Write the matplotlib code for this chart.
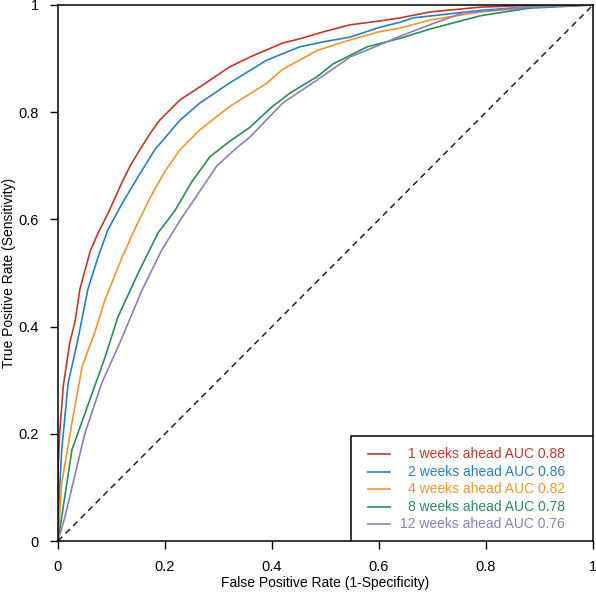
import numpy as np
import matplotlib
matplotlib.use("Agg")
import matplotlib.pyplot as plt
from matplotlib.patches import Rectangle

plt.rcParams['font.family'] = ['Liberation Sans', 'DejaVu Sans']

# ROC points
fpr_1w = [0, 0, 0.003, 0.01, 0.022, 0.032, 0.041, 0.06, 0.075, 0.093, 0.12, 0.135, 0.153,
          0.172, 0.19, 0.228, 0.265, 0.32, 0.359, 0.42, 0.452, 0.5, 0.546, 0.6, 0.64, 0.695,
          0.79, 0.9, 1]
tpr_1w = [0, 0.13, 0.2, 0.29, 0.37, 0.41, 0.47, 0.54, 0.575, 0.61, 0.67, 0.70, 0.73,
          0.76, 0.785, 0.823, 0.847, 0.884, 0.903, 0.929, 0.937, 0.951, 0.963, 0.97, 0.976,
          0.987, 0.996, 1, 1]

fpr_2w = [0, 0.002, 0.007, 0.019, 0.036, 0.056, 0.075, 0.093, 0.12, 0.15, 0.181,
          0.228, 0.265, 0.32, 0.39, 0.452, 0.5, 0.546, 0.6, 0.64, 0.664, 0.79, 0.9, 1]
tpr_2w = [0, 0.08, 0.17, 0.295, 0.37, 0.47, 0.53, 0.58, 0.63, 0.68, 0.73,
          0.785, 0.817, 0.854, 0.897, 0.922, 0.932, 0.94, 0.958, 0.968, 0.976, 0.99, 0.998, 1]

fpr_4w = [0, 0.007, 0.026, 0.045, 0.069, 0.088, 0.12, 0.145, 0.172, 0.2, 0.228,
          0.265, 0.32, 0.39, 0.42, 0.484, 0.54, 0.60, 0.64, 0.695, 0.79, 0.9, 1]
tpr_4w = [0, 0.108, 0.22, 0.325, 0.39, 0.45, 0.53, 0.585, 0.64, 0.69, 0.73,
          0.767, 0.81, 0.854, 0.88, 0.915, 0.933, 0.95, 0.957, 0.972, 0.987, 0.997, 1]

fpr_8w = [0, 0.007, 0.026, 0.064, 0.088, 0.112, 0.15, 0.187, 0.219, 0.25,
          0.284, 0.32, 0.359, 0.4, 0.434, 0.484, 0.514, 0.578, 0.64, 0.695, 0.79, 0.88, 1]
tpr_8w = [0, 0.045, 0.17, 0.276, 0.343, 0.418, 0.50, 0.575, 0.617, 0.67,
          0.717, 0.745, 0.772, 0.81, 0.836, 0.866, 0.89, 0.922, 0.938, 0.955, 0.98, 0.994, 1]

fpr_12w = [0, 0.013, 0.05, 0.082, 0.12, 0.157, 0.194, 0.232, 0.27, 0.297,
           0.33, 0.359, 0.42, 0.484, 0.546, 0.6, 0.64, 0.7, 0.757, 0.88, 1]
tpr_12w = [0, 0.045, 0.20, 0.295, 0.38, 0.468, 0.543, 0.604, 0.66, 0.70,
           0.73, 0.754, 0.817, 0.86, 0.903, 0.925, 0.942, 0.965, 0.985, 0.996, 1]

labels = ["1 weeks ahead AUC 0.88", "2 weeks ahead AUC 0.86", "4 weeks ahead AUC 0.82",
          "8 weeks ahead AUC 0.78", "12 weeks ahead AUC 0.76"]
colors = ["#c0392b", "#2a7fc4", "#f0962e", "#2e8b57", "#8a7fbf"]
curves = [(fpr_1w, tpr_1w), (fpr_2w, tpr_2w), (fpr_4w, tpr_4w),
          (fpr_8w, tpr_8w), (fpr_12w, tpr_12w)]
ticks = [0, 0.2, 0.4, 0.6, 0.8, 1]
tick_labels = ["0", "0.2", "0.4", "0.6", "0.8", "1"]

fig = plt.figure(figsize=(5.96, 5.94), dpi=100)
ax = fig.add_axes([0.0973, 0.0892, 0.8977, 0.9024])

for (x, y), c in zip(curves, colors):
    ax.plot(x, y, color=c, lw=1.2)
ax.plot([0, 1], [0, 1], color="#222222", lw=1.1, ls=(0, (4, 3)))

ax.set_xlim(0, 1)
ax.set_ylim(0, 1)
ax.set_xticks(ticks)
ax.set_xticklabels(tick_labels)
ax.set_yticks(ticks)
ax.set_yticklabels(tick_labels)
ax.tick_params(direction="out", length=6, width=1, labelsize=10.5, pad=8)
for s in ax.spines.values():
    s.set_linewidth(1.1)
ax.set_xlabel("False Positive Rate (1-Specificity)", fontsize=10, labelpad=1)
ax.set_ylabel("True Positive Rate (Sensitivity)", fontsize=10)
ax.yaxis.set_label_coords(-0.078, 0.5)

# legend drawn by hand so the text is right aligned like the original
x0, x1 = 0.547, 1.0
y0, y1 = 0.0, 0.196
ax.add_patch(Rectangle((x0, y0), x1 - x0, y1 - y0, transform=ax.transAxes,
                       facecolor="white", edgecolor="black", lw=1.1, zorder=5))
row_y = [0.162, 0.129, 0.097, 0.064, 0.032]
for lab, c, ry in zip(labels, colors, row_y):
    ax.plot([0.579, 0.62], [ry, ry], color=c, lw=1.2, transform=ax.transAxes, zorder=6)
    ax.text(0.948, ry, lab, color=c, fontsize=10, ha="right", va="center",
            transform=ax.transAxes, zorder=6)

fig.savefig("out.png", dpi=100)
